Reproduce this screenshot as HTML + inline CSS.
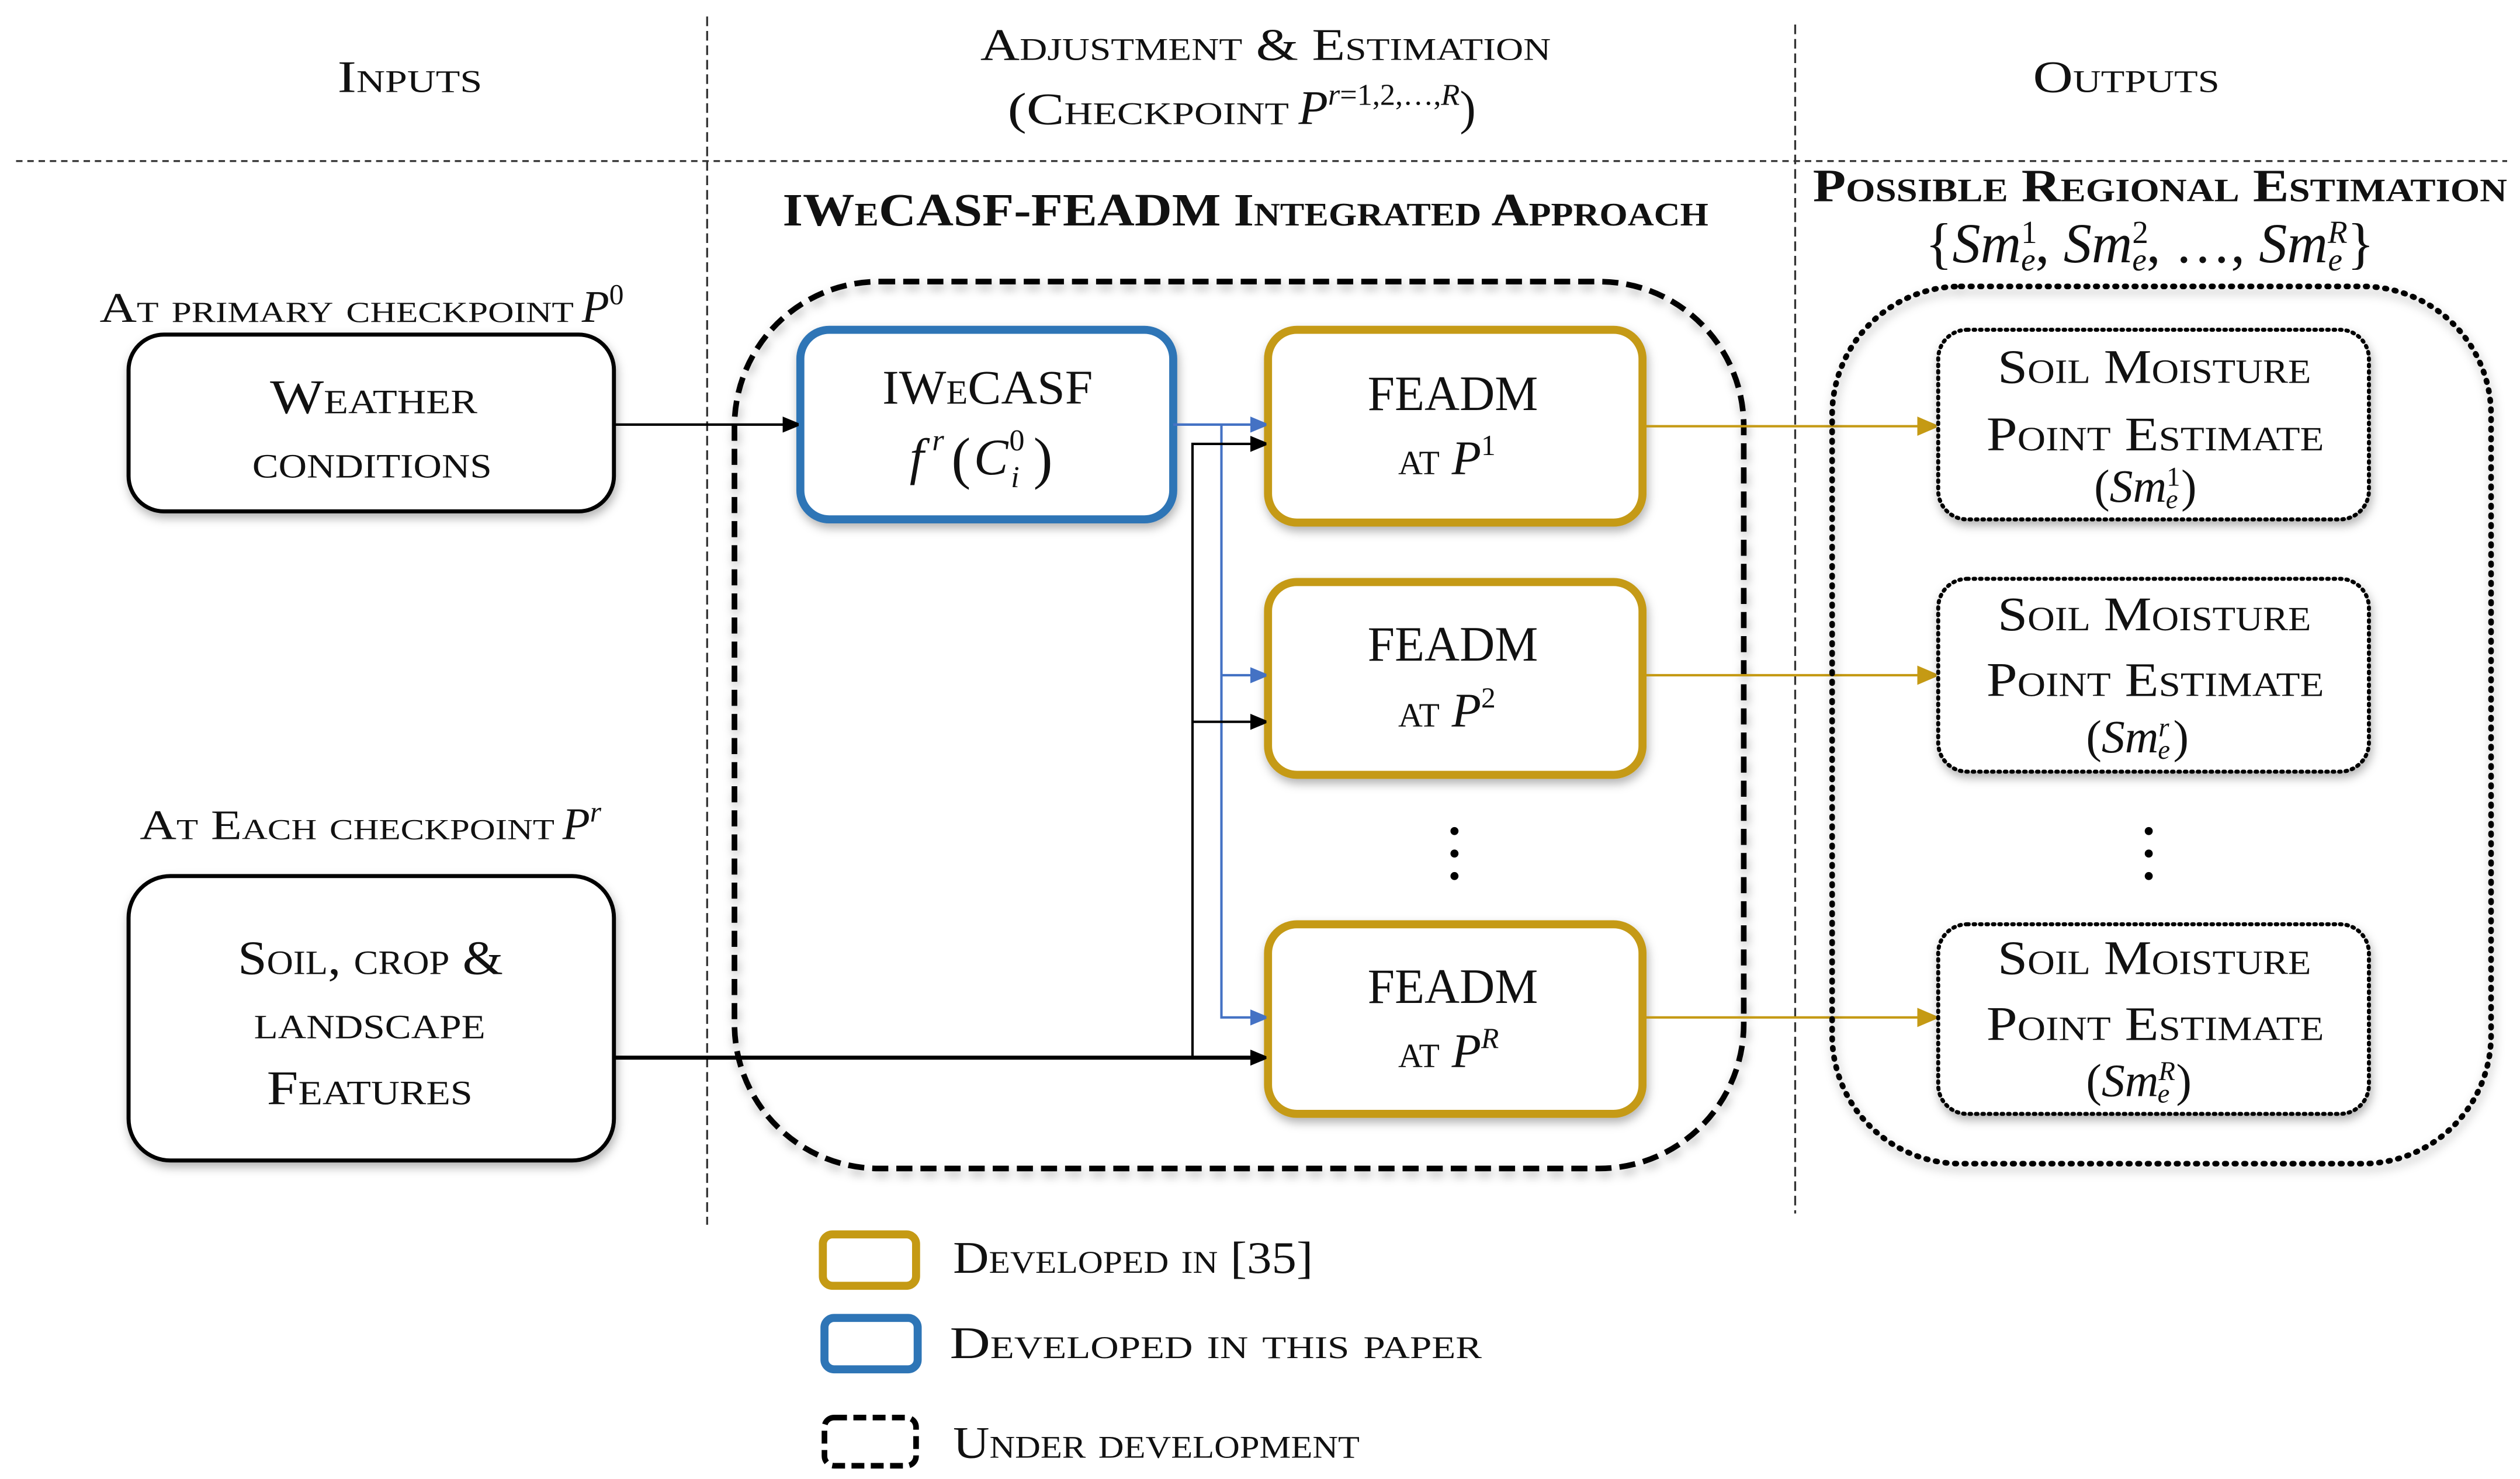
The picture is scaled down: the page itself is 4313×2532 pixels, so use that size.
<!DOCTYPE html>
<html><head><meta charset="utf-8"><style>
html,body{margin:0;padding:0;background:#fff}
svg{display:block}
text{font-family:"Liberation Serif",serif;fill:#111}
.sc{font-variant:small-caps}
.it{font-style:italic;font-variant:normal}
.n{font-variant:normal}
</style></head><body>
<svg width="4313" height="2532" viewBox="0 0 1568 920" xmlns="http://www.w3.org/2000/svg">
<defs>
<marker id="ab" markerWidth="10" markerHeight="10" refX="9" refY="5" orient="auto" markerUnits="userSpaceOnUse"><path d="M0,0 L12,5 L0,10 Z" fill="#000"/></marker>
<marker id="au" markerWidth="10" markerHeight="10" refX="9" refY="5" orient="auto" markerUnits="userSpaceOnUse"><path d="M0,0 L12,5 L0,10 Z" fill="#4472c4"/></marker>
<marker id="ay" markerWidth="12" markerHeight="12" refX="11" refY="6" orient="auto" markerUnits="userSpaceOnUse"><path d="M0,0 L14,6 L0,12 Z" fill="#c59a14"/></marker>
<filter id="sh" x="-10%" y="-10%" width="120%" height="125%"><feDropShadow dx="1" dy="3" stdDeviation="3" flood-color="#000" flood-opacity="0.3"/></filter>
</defs>

<line x1="10" y1="100" x2="1560" y2="100" stroke="#333" stroke-width="1.2" stroke-dasharray="4,3"/>
<line x1="440" y1="10" x2="440" y2="762" stroke="#333" stroke-width="1.2" stroke-dasharray="6,3"/>
<line x1="1117" y1="15" x2="1117" y2="755" stroke="#333" stroke-width="1.2" stroke-dasharray="6,3"/>

<text class="sc" x="210" y="57" font-size="28" textLength="90" lengthAdjust="spacingAndGlyphs">Inputs</text>
<text class="sc" x="610" y="37" font-size="28" textLength="355" lengthAdjust="spacingAndGlyphs">Adjustment &amp; Estimation</text>
<text class="sc" x="627" y="77" font-size="28" textLength="175" lengthAdjust="spacingAndGlyphs">(Checkpoint</text>
<text x="808" y="77" font-size="30"><tspan class="it">P</tspan><tspan font-size="19" dy="-12" class="it">r</tspan><tspan font-size="19" class="n">=1,2,…,</tspan><tspan font-size="19" class="it">R</tspan><tspan dy="12">)</tspan></text>
<text class="sc" x="1265" y="57" font-size="28" textLength="116" lengthAdjust="spacingAndGlyphs">Outputs</text>
<text class="sc" x="487" y="140" font-size="29" font-weight="bold" textLength="576" lengthAdjust="spacingAndGlyphs">IWeCASF-FEADM Integrated Approach</text>
<text class="sc" x="1128" y="125" font-size="29" font-weight="bold" textLength="432" lengthAdjust="spacingAndGlyphs">Possible Regional Estimation</text>
<text x="1198" y="163" font-size="35">{<tspan class="it">Sm</tspan><tspan font-size="20" dy="-12">1</tspan><tspan font-size="20" dx="-10" dy="17" class="it">e</tspan><tspan dy="-5">, </tspan><tspan class="it">Sm</tspan><tspan font-size="20" dy="-12">2</tspan><tspan font-size="20" dx="-10" dy="17" class="it">e</tspan><tspan dy="-5">, …, </tspan><tspan class="it">Sm</tspan><tspan font-size="20" dy="-12" class="it">R</tspan><tspan font-size="20" dx="-12" dy="17" class="it">e</tspan><tspan dy="-5" dx="3">}</tspan></text>

<text class="sc" x="62" y="200" font-size="26" textLength="295" lengthAdjust="spacingAndGlyphs">At primary checkpoint</text>
<text x="362" y="200" font-size="28"><tspan class="it">P</tspan><tspan font-size="18" dy="-11">0</tspan></text>
<text class="sc" x="87" y="522" font-size="26" textLength="258" lengthAdjust="spacingAndGlyphs">At Each checkpoint</text>
<text x="350" y="522" font-size="28"><tspan class="it">P</tspan><tspan font-size="18" dy="-11" class="it">r</tspan></text>

<rect x="80" y="208" width="302" height="110" rx="22" fill="#fff" stroke="#000" stroke-width="2.5" filter="url(#sh)"/>
<text class="sc" x="168" y="257" font-size="30" textLength="129" lengthAdjust="spacingAndGlyphs">Weather</text>
<text class="sc" x="157" y="297" font-size="30" textLength="149" lengthAdjust="spacingAndGlyphs">conditions</text>
<rect x="80" y="545" width="302" height="177" rx="26" fill="#fff" stroke="#000" stroke-width="2.5" filter="url(#sh)"/>
<text class="sc" x="148" y="606" font-size="30" textLength="165" lengthAdjust="spacingAndGlyphs">Soil, crop &amp;</text>
<text class="sc" x="158" y="646" font-size="30" textLength="144" lengthAdjust="spacingAndGlyphs">landscape</text>
<text class="sc" x="166" y="687" font-size="30" textLength="128" lengthAdjust="spacingAndGlyphs">Features</text>

<rect x="457" y="175" width="628" height="552" rx="90" fill="none" stroke="#000" stroke-width="3.5" stroke-dasharray="10,5" filter="url(#sh)"/>

<rect x="498" y="205" width="232" height="118" rx="18" fill="#fff" stroke="#2e75b6" stroke-width="5" filter="url(#sh)"/>
<text class="sc" x="549" y="251" font-size="30" textLength="131" lengthAdjust="spacingAndGlyphs">IWeCASF</text>
<text x="566" y="295" font-size="32" class="it">f</text>
<text x="580" y="280" font-size="19" class="it">r</text>
<text x="592" y="297" font-size="36" class="n">(</text>
<text x="606" y="295" font-size="32" class="it">C</text>
<text x="628" y="280" font-size="19" class="n">0</text>
<text x="629" y="303" font-size="19" class="it">i</text>
<text x="643" y="297" font-size="36" class="n">)</text>

<g fill="#fff" stroke="#c59a14" stroke-width="5" filter="url(#sh)">
<rect x="789" y="205" width="233" height="120" rx="18"/>
<rect x="789" y="362" width="233" height="120" rx="18"/>
<rect x="789" y="575" width="233" height="118" rx="18"/>
</g>
<g font-size="31">
<text x="851" y="255" textLength="106" lengthAdjust="spacingAndGlyphs">FEADM</text>
<text x="851" y="411" textLength="106" lengthAdjust="spacingAndGlyphs">FEADM</text>
<text x="851" y="624" textLength="106" lengthAdjust="spacingAndGlyphs">FEADM</text>
</g>
<text class="sc" x="870" y="295" font-size="30">at <tspan class="it">P</tspan><tspan font-size="18" dy="-12" class="n">1</tspan></text>
<text class="sc" x="870" y="452" font-size="30">at <tspan class="it">P</tspan><tspan font-size="18" dy="-12" class="n">2</tspan></text>
<text class="sc" x="870" y="664" font-size="30">at <tspan class="it">P</tspan><tspan font-size="18" dy="-12" class="it">R</tspan></text>
<g fill="#000"><circle cx="905" cy="517" r="2.5"/><circle cx="905" cy="531" r="2.5"/><circle cx="905" cy="545" r="2.5"/></g>

<line x1="382" y1="264" x2="496" y2="264" stroke="#000" stroke-width="1.5" marker-end="url(#ab)"/>
<path d="M730,264 H787" fill="none" stroke="#4472c4" stroke-width="1.5" marker-end="url(#au)"/>
<path d="M760,264 V633 H787" fill="none" stroke="#4472c4" stroke-width="1.5" marker-end="url(#au)"/>
<path d="M760,420 H787" fill="none" stroke="#4472c4" stroke-width="1.5" marker-end="url(#au)"/>
<path d="M382,658 H787" fill="none" stroke="#000" stroke-width="2.5" marker-end="url(#ab)"/>
<path d="M742,658 V276 H787" fill="none" stroke="#000" stroke-width="1.5" marker-end="url(#ab)"/>
<path d="M742,449 H787" fill="none" stroke="#000" stroke-width="1.5" marker-end="url(#ab)"/>
<g stroke="#c59a14" stroke-width="1.5">
<line x1="1022" y1="265" x2="1204" y2="265" marker-end="url(#ay)"/>
<line x1="1022" y1="420" x2="1204" y2="420" marker-end="url(#ay)"/>
<line x1="1022" y1="633" x2="1204" y2="633" marker-end="url(#ay)"/>
</g>

<rect x="1140" y="178" width="410" height="546" rx="80" fill="none" stroke="#000" stroke-width="3.5" stroke-dasharray="1,5" stroke-linecap="round" filter="url(#sh)"/>
<g fill="#fff" stroke="#000" stroke-width="2.5" stroke-dasharray="1,3" stroke-linecap="round" filter="url(#sh)">
<rect x="1206" y="205" width="268" height="118" rx="18"/>
<rect x="1206" y="360" width="268" height="120" rx="18"/>
<rect x="1206" y="575" width="268" height="118" rx="18"/>
</g>
<g class="sc" font-size="30">
<text x="1243" y="238" textLength="195" lengthAdjust="spacingAndGlyphs">Soil Moisture</text>
<text x="1236" y="280" textLength="210" lengthAdjust="spacingAndGlyphs">Point Estimate</text>
<text x="1243" y="392" textLength="195" lengthAdjust="spacingAndGlyphs">Soil Moisture</text>
<text x="1236" y="433" textLength="210" lengthAdjust="spacingAndGlyphs">Point Estimate</text>
<text x="1243" y="606" textLength="195" lengthAdjust="spacingAndGlyphs">Soil Moisture</text>
<text x="1236" y="647" textLength="210" lengthAdjust="spacingAndGlyphs">Point Estimate</text>
</g>
<g font-size="29">
<text x="1303" y="312">(<tspan class="it">Sm</tspan><tspan font-size="17" dy="-10">1</tspan><tspan font-size="17" dx="-9" dy="14" class="it">e</tspan><tspan dy="-4" dx="2">)</tspan></text>
<text x="1298" y="468">(<tspan class="it">Sm</tspan><tspan font-size="17" dy="-10" class="it">r</tspan><tspan font-size="17" dx="-7" dy="14" class="it">e</tspan><tspan dy="-4" dx="2">)</tspan></text>
<text x="1298" y="682">(<tspan class="it">Sm</tspan><tspan font-size="17" dy="-10" class="it">R</tspan><tspan font-size="17" dx="-11" dy="14" class="it">e</tspan><tspan dy="-4" dx="4">)</tspan></text>
</g>
<g fill="#000"><circle cx="1337" cy="517" r="2.5"/><circle cx="1337" cy="531" r="2.5"/><circle cx="1337" cy="545" r="2.5"/></g>

<rect x="512" y="768" width="58" height="32" rx="6" fill="#fff" stroke="#c59a14" stroke-width="5"/>
<rect x="513" y="820" width="58" height="32" rx="6" fill="#fff" stroke="#2e75b6" stroke-width="5"/>
<rect x="513" y="882" width="57" height="30" rx="6" fill="#fff" stroke="#000" stroke-width="3.5" stroke-dasharray="8,4"/>
<text class="sc" x="593" y="792" font-size="28" textLength="224" lengthAdjust="spacingAndGlyphs">Developed in [35]</text>
<text class="sc" x="591" y="845" font-size="28" textLength="331" lengthAdjust="spacingAndGlyphs">Developed in this paper</text>
<text class="sc" x="593" y="907" font-size="28" textLength="253" lengthAdjust="spacingAndGlyphs">Under development</text>
</svg>
</body></html>
